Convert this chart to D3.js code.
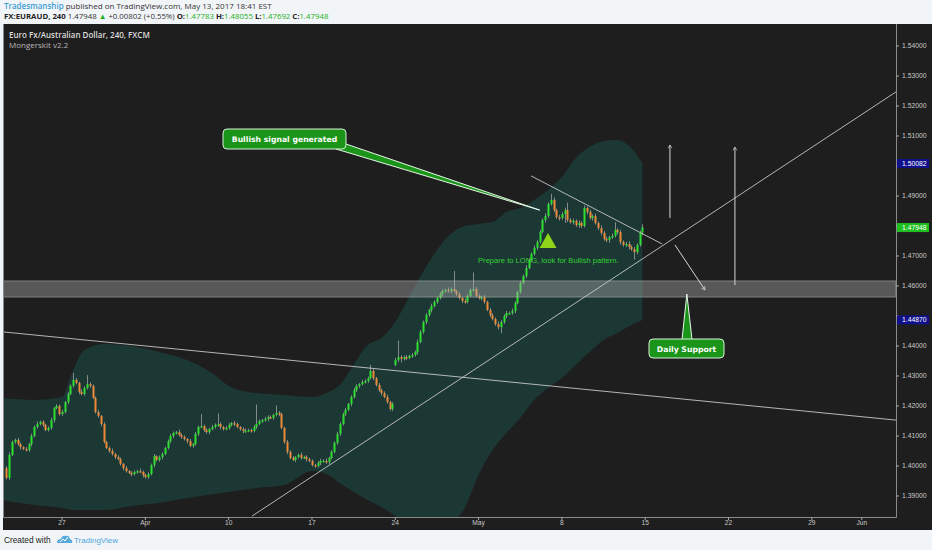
<!DOCTYPE html>
<html><head><meta charset="utf-8">
<script src="https://cdn.jsdelivr.net/npm/d3@7"></script>
<style>
body{margin:0;background:#f2f5f7;}
svg{display:block;}
</style></head><body>
<svg id="c" width="932" height="550"></svg>
<script>
// ---------- DATA ----------
const firstBar = -20;            // bar offset of first candle relative to Mon Mar 27
const firstOpen = 1.3993;
const gapBar = 120, gapOpen = 1.4337;   // weekend gap (Apr 24)
const closes = [
1.3960,1.4037,1.4080,1.4087,1.4073,1.4063,1.4057,1.4053,1.4073,1.4100,
1.4130,1.4140,1.4147,1.4137,1.4120,1.4127,1.4153,1.4193,1.4200,1.4173,
1.4180,1.4213,1.4240,1.4267,1.4287,1.4277,1.4247,1.4240,1.4260,1.4273,
1.4267,1.4227,1.4180,1.4167,1.4140,1.4080,1.4060,1.4050,1.4040,1.4030,
1.4023,1.4007,1.3993,1.3983,1.3977,1.3973,1.3980,1.3983,1.3980,1.3970,
1.3963,1.3973,1.4003,1.4033,1.4020,1.4030,1.4040,1.4060,1.4083,1.4100,
1.4110,1.4113,1.4103,1.4097,1.4090,1.4083,1.4067,1.4073,1.4107,1.4130,
1.4133,1.4120,1.4113,1.4123,1.4130,1.4137,1.4140,1.4130,1.4123,1.4127,
1.4137,1.4143,1.4140,1.4130,1.4123,1.4117,1.4117,1.4120,1.4117,1.4130,
1.4140,1.4150,1.4153,1.4157,1.4163,1.4160,1.4170,1.4177,1.4173,1.4127,
1.4080,1.4047,1.4027,1.4020,1.4030,1.4037,1.4027,1.4030,1.4023,1.4017,
1.4003,1.4000,1.4010,1.4017,1.4017,1.4013,1.4027,1.4047,1.4077,1.4107,
1.4140,1.4173,1.4187,1.4207,1.4230,1.4253,1.4267,1.4273,1.4280,1.4283,
1.4293,1.4317,1.4293,1.4270,1.4253,1.4243,1.4230,1.4213,1.4190,1.4207,
1.4353,1.4363,1.4357,1.4363,1.4360,1.4367,1.4370,1.4380,1.4413,1.4447,
1.4480,1.4503,1.4520,1.4533,1.4547,1.4560,1.4573,1.4583,1.4587,1.4583,
1.4590,1.4583,1.4573,1.4560,1.4550,1.4547,1.4567,1.4587,1.4590,1.4567,
1.4560,1.4563,1.4547,1.4520,1.4503,1.4490,1.4473,1.4463,1.4480,1.4500,
1.4510,1.4510,1.4517,1.4543,1.4580,1.4610,1.4633,1.4660,1.4687,1.4707,
1.4727,1.4747,1.4780,1.4820,1.4833,1.4873,1.4887,1.4853,1.4830,1.4827,
1.4840,1.4853,1.4820,1.4813,1.4817,1.4803,1.4810,1.4800,1.4860,1.4847,
1.4827,1.4833,1.4810,1.4793,1.4777,1.4757,1.4753,1.4763,1.4767,1.4787,
1.4780,1.4747,1.4737,1.4740,1.4730,1.4723,1.4713,1.4737,1.47783,1.47948
];
// upper / lower wick lengths in pips
const wickHi = [
6,8,5,4,7,5,3,6,4,8, 5,9,4,6,3,5,8,4,6,5, 7,4,6,5,23,6,4,8,5,30, 6,4,5,7,3,6,4,5,8,4,
6,5,3,7,4,6,5,4,8,5, 4,6,5,7,3,5,6,4,5,7, 5,4,8,6,5,3,7,4,6,5, 40,5,6,4,7,5,35,6,4,5,
6,4,7,5,3,6,8,4,5,6, 65,5,4,7,6,5,4,25,6,5, 4,7,5,6,3,5,8,4,6,5, 5,4,6,7,5,8,4,6,5,7,
6,5,7,4,6,8,5,4,7,6, 5,20,6,4,7,5,6,8,4,6, 8,55,6,5,7,4,6,5,8,6, 5,7,4,8,6,5,7,6,4,8,
6,60,5,7,4,8,6,5,55,7, 6,5,8,4,7,6,5,9,6,5, 7,5,8,6,4,7,5,9,6,5, 8,6,7,5,9,6,20,8,5,7,
6,8,25,6,7,5,9,6,8,5, 7,6,8,5,9,6,7,5,8,25, 6,8,5,7,9,6,7,5,6,11
];
const wickLo = [
5,7,4,6,5,8,4,5,6,7, 4,6,5,7,4,5,6,8,4,5, 6,5,7,4,6,5,8,4,6,5, 7,4,5,6,8,5,4,6,5,7,
4,6,8,5,4,7,5,6,4,8, 5,6,4,7,5,6,8,4,5,6, 7,5,4,6,5,8,4,6,5,7, 4,6,5,7,4,5,6,8,5,4,
6,5,7,4,6,8,5,4,6,5, 7,4,6,5,8,4,6,5,7,4, 6,8,5,4,7,5,6,4,8,5, 4,6,5,7,4,6,8,5,4,6,
7,5,6,4,8,5,6,7,4,5, 6,4,7,5,6,8,4,5,6,7, 5,6,12,5,7,4,6,5,8,4, 6,7,5,8,4,6,5,7,6,5,
8,4,6,5,7,6,5,4,7,6, 5,8,6,4,7,5,6,8,20,6, 7,5,6,8,4,6,5,7,4,6, 5,7,6,4,8,6,5,7,6,9,
6,30,7,5,8,6,9,7,5,8, 6,9,5,7,8,6,7,9,6,5, 8,9,6,7,8,6,25,7,6,9
];
// Mongerskit envelope (sampled bars)
const bandBars  = [-22,-10,0,4,8,15,25,35,45,55,60,70,80,90,96,100,105,110,115,120,125,130,135,140,145,150,155,160,165,170,175,180,185,190,195,200,205,209];
const bandUpper = [1.4227,1.4220,1.4230,1.4320,1.4387,1.4407,1.4400,1.4380,1.4353,1.4303,1.4267,1.4243,1.4237,1.4230,1.4247,1.4270,1.4337,1.4403,1.4427,1.4480,1.4563,1.4647,1.4720,1.4773,1.4800,1.4807,1.4813,1.4847,1.4860,1.4887,1.4920,1.4963,1.5027,1.5063,1.5083,1.5087,1.5060,1.50082];
const bandLower = [1.3887,1.3870,1.3860,1.3853,1.3853,1.3853,1.3867,1.3877,1.3893,1.3907,1.3913,1.3927,1.3937,1.3983,1.3970,1.3943,1.3913,1.3887,1.3863,1.3833,1.3787,1.3753,1.3770,1.3807,1.3860,1.3970,1.4053,1.4110,1.4160,1.4220,1.4260,1.4293,1.4337,1.4380,1.4420,1.4443,1.4470,1.44870];
// x axis
const tickBars   = [0,30,60,90,120,150,180,210,240,270,288];
const tickLabels = ["27","Apr","10","17","24","May","8","15","22","29","Jun"];
// y axis
const priceTicks = [1.39,1.40,1.41,1.42,1.43,1.44,1.45,1.46,1.47,1.48,1.49,1.50,1.51,1.52,1.53,1.54];
const priceTags  = [{p:1.50082,t:"1.50082",c:"#10108c"},{p:1.47948,t:"1.47948",c:"#1fbf1f"},{p:1.44870,t:"1.44870",c:"#10108c"}];
// drawings
const supportZone = [1.4563, 1.4617];
const trendLines = [
  [{k:-21.25,p:1.4447},{k:300.3,p:1.4153}],
  [{k:68.4,p:1.3833},{k:300.3,p:1.5247}],
  [{k:168.9,p:1.4967},{k:216.1,p:1.4740}]
];
const arrows = [
  [{k:218.9,p:1.4827},{k:218.9,p:1.5070}],
  [{k:242.3,p:1.4603},{k:242.3,p:1.5063}],
  [{k:220.7,p:1.4737},{k:231.5,p:1.4587}]
];
const signalBar = 175, signalPrice = 1.4727;
const bullishTip = {k:172, p:1.4853};
const supportTip = {k:225, p:1.4573};
const noteAnchor = {k:149.8, p:1.4677};

// ---------- SCALES ----------
const svg = d3.select("#c");
const PL=3, PR=896, PT=24, PB=517;
const x = d3.scaleLinear().domain([-21.25, 300.3]).range([PL, PR]);
const y = d3.scaleLinear().domain([1.383, 1.54733]).range([PB, PT]);

// background panels
svg.append("rect").attr("x",0).attr("y",0).attr("width",932).attr("height",550).attr("fill","#f2f5f7");
svg.append("rect").attr("x",3).attr("y",24).attr("width",929).attr("height",506).attr("fill","#1e1e1e");

const defs = svg.append("defs");
defs.append("clipPath").attr("id","plot").append("rect").attr("x",PL).attr("y",PT).attr("width",PR-PL).attr("height",PB-PT);
defs.append("marker").attr("id","ah").attr("viewBox","-6 -6 12 12").attr("markerWidth",8).attr("markerHeight",8)
  .attr("orient","auto").attr("markerUnits","userSpaceOnUse")
  .append("path").attr("d","M-5,-3 L0,0 L-5,3").attr("fill","none").attr("stroke","#d8d8d8").attr("stroke-width",1);

const g = svg.append("g").attr("clip-path","url(#plot)");

// band
const bandData = bandBars.map((k,i)=>({k, u:bandUpper[i], l:bandLower[i]}));
g.append("path").datum(bandData)
  .attr("d", d3.area().x(d=>x(d.k)).y0(d=>y(d.l)).y1(d=>y(d.u)).curve(d3.curveMonotoneX))
  .attr("fill","#1c3834");

// candles
const bars = closes.map((c,i)=>{
  const k = firstBar+i;
  const o = i===0 ? firstOpen : (k===gapBar ? gapOpen : closes[i-1]);
  return {k,o,c,h:Math.max(o,c)+wickHi[i]*1e-4,l:Math.min(o,c)-wickLo[i]*1e-4};
});
const cg = g.append("g");
cg.selectAll("line.w").data(bars).join("line").attr("class","w")
  .attr("x1",d=>Math.round(x(d.k))+0.5).attr("x2",d=>Math.round(x(d.k))+0.5)
  .attr("y1",d=>y(d.h)).attr("y2",d=>y(d.l))
  .attr("stroke","#a0a0a0").attr("stroke-width",1).attr("opacity",0.8);
cg.selectAll("rect.b").data(bars).join("rect").attr("class","b")
  .attr("x",d=>Math.round(x(d.k))-0.5).attr("width",2)
  .attr("y",d=>y(Math.max(d.o,d.c))).attr("height",d=>Math.max(1.5,Math.abs(y(d.o)-y(d.c))))
  .attr("fill",d=>d.c>=d.o?"#2ee02e":"#ec8a38");

// support zone
g.append("rect").attr("x",PL).attr("width",PR-PL)
  .attr("y",y(supportZone[1])).attr("height",y(supportZone[0])-y(supportZone[1]))
  .attr("fill","rgba(170,170,170,0.42)").attr("stroke","rgba(200,200,200,0.45)").attr("stroke-width",1);

// trend lines
const ln = d3.line().x(d=>x(d.k)).y(d=>y(d.p));
g.selectAll("path.tl").data(trendLines).join("path").attr("class","tl")
  .attr("d",ln).attr("fill","none").attr("stroke","#d0d0d0").attr("stroke-width",1).attr("opacity",0.85);
g.selectAll("path.ar").data(arrows).join("path").attr("class","ar")
  .attr("d",ln).attr("fill","none").attr("stroke","#d8d8d8").attr("stroke-width",1)
  .attr("marker-end","url(#ah)");

// signal triangle
const sx = x(signalBar), sy = y(signalPrice);
g.append("path").attr("d",`M${sx-8.5},${sy} L${sx},${sy-15} L${sx+8.5},${sy} Z`).attr("fill","#8fd418");

// prepare text
g.append("text").attr("x",x(noteAnchor.k)).attr("y",y(noteAnchor.p)).text("Prepare to LONG, look for Bullish pattern.")
  .attr("fill","#33d033").attr("font-family","Liberation Sans, Arial, sans-serif").attr("font-size",7.6);

// callouts
function callout(bx,by,bw,bh,base1,base2,tip,label){
  const cgp = svg.append("g");
  cgp.append("path").attr("d",`M${base1[0]},${base1[1]} L${tip[0]},${tip[1]} L${base2[0]},${base2[1]} Z`)
    .attr("fill","#1a951a").attr("stroke","#e6f5e6").attr("stroke-width",1);
  cgp.append("rect").attr("x",bx).attr("y",by).attr("width",bw).attr("height",bh).attr("rx",4)
    .attr("fill","#1a951a").attr("stroke","#d8efd8").attr("stroke-width",1);
  cgp.append("text").attr("x",bx+bw/2).attr("y",by+bh/2+3).attr("text-anchor","middle").text(label)
    .attr("fill","#ffffff").attr("font-weight","bold").attr("font-size",7.7)
    .attr("font-family","DejaVu Sans, Verdana, sans-serif");
}
const bt=[x(bullishTip.k), y(bullishTip.p)];
callout(223,129,123,20,[336,149],[346,144],bt,"Bullish signal generated");
const st=[x(supportTip.k), y(supportTip.p)];
callout(649,339,75,19,[682,339.5],[692,339.5],st,"Daily Support");

// plot frame
svg.append("path").attr("d",`M${PL+0.5},${PT} V${PB+0.5} H${PR+0.5} V${PT}`).attr("fill","none").attr("stroke","#8a8a8a").attr("stroke-width",1);

// y axis (labels hidden under the price tags are skipped)
const ya = svg.append("g");
priceTicks.forEach(p=>{
  const yy = y(p);
  ya.append("line").attr("x1",PR).attr("x2",PR+3).attr("y1",yy).attr("y2",yy).attr("stroke","#aaa");
  if (priceTags.some(t=>Math.abs(y(t.p)-yy)<8)) return;
  ya.append("text").attr("x",PR+6).attr("y",yy+2.5).text(p.toFixed(5))
    .attr("fill","#c8c8c8").attr("font-size",6.8).attr("font-family","Liberation Sans, Arial, sans-serif");
});
priceTags.forEach(t=>{
  const yy=y(t.p);
  ya.append("rect").attr("x",PR+1).attr("y",yy-4.5).attr("width",32).attr("height",9).attr("fill",t.c);
  ya.append("text").attr("x",PR+6).attr("y",yy+2.5).text(t.t)
    .attr("fill","#fff").attr("font-size",6.8).attr("font-family","Liberation Sans, Arial, sans-serif");
});

// x axis
const xa = svg.append("g");
tickBars.forEach((k,i)=>{
  const xx = x(k);
  xa.append("line").attr("x1",xx).attr("x2",xx).attr("y1",PB).attr("y2",PB+3).attr("stroke","#aaa");
  xa.append("text").attr("x",xx).attr("y",PB+8).attr("text-anchor","middle").text(tickLabels[i])
    .attr("fill","#c8c8c8").attr("font-size",6.6).attr("font-family","Liberation Sans Narrow, Liberation Sans, Arial, sans-serif");
});

// chart title
svg.append("text").attr("x",9).attr("y",38).text("Euro Fx/Australian Dollar, 240, FXCM")
  .attr("fill","#dcdcdc").attr("font-size",8).attr("font-family","Open Sans, sans-serif").attr("font-weight",600);
svg.append("text").attr("x",9).attr("y",48).text("Mongerskit v2.2")
  .attr("fill","#b8b8b8").attr("font-size",8).attr("font-family","Open Sans, sans-serif");

// header
const h1 = svg.append("text").attr("x",4).attr("y",9).attr("font-size",8).attr("font-family","Open Sans, sans-serif");
h1.append("tspan").text("Tradesmanship").attr("fill","#3c9fd8").attr("font-weight",600);
h1.append("tspan").text(" published on TradingView.com, May 13, 2017 18:41 EST").attr("fill","#333");
const h2 = svg.append("text").attr("x",4).attr("y",19).attr("font-size",7.8).attr("font-family","Open Sans, sans-serif");
const G="#21b021";
[["FX:EURAUD, 240","#222",700],[" 1.47948 ","#333",400],["▲",G,400],[" +0.00802 (+0.55%) ","#333",400],
 ["O:","#222",700],["1.47783",G,400],[" H:","#222",700],["1.48055",G,400],[" L:","#222",700],["1.47692",G,400],
 [" C:","#222",700],["1.47948",G,400]].forEach(s=>h2.append("tspan").text(s[0]).attr("fill",s[1]).attr("font-weight",s[2]));

// footer
svg.append("text").attr("x",4).attr("y",543).text("Created with").attr("fill","#222").attr("font-size",8.3)
  .attr("font-family","Liberation Sans Narrow, Liberation Sans, Arial, sans-serif");
const logo = svg.append("g").attr("transform","translate(57,534)");
logo.append("path").attr("d","M0,9 Q0,5 4,5 Q5,1 9,2 Q12,1 13,5 Q16,6 15,9 Z").attr("fill","#5aa9dc");
logo.append("path").attr("d","M3,8 L6,5 L8,7 L11,3").attr("fill","none").attr("stroke","#fff").attr("stroke-width",1);
svg.append("text").attr("x",74).attr("y",543).text("TradingView").attr("fill","#4ea4dc").attr("font-size",8)
  .attr("font-family","Liberation Sans Narrow, Liberation Sans, Arial, sans-serif");
</script>
</body></html>
